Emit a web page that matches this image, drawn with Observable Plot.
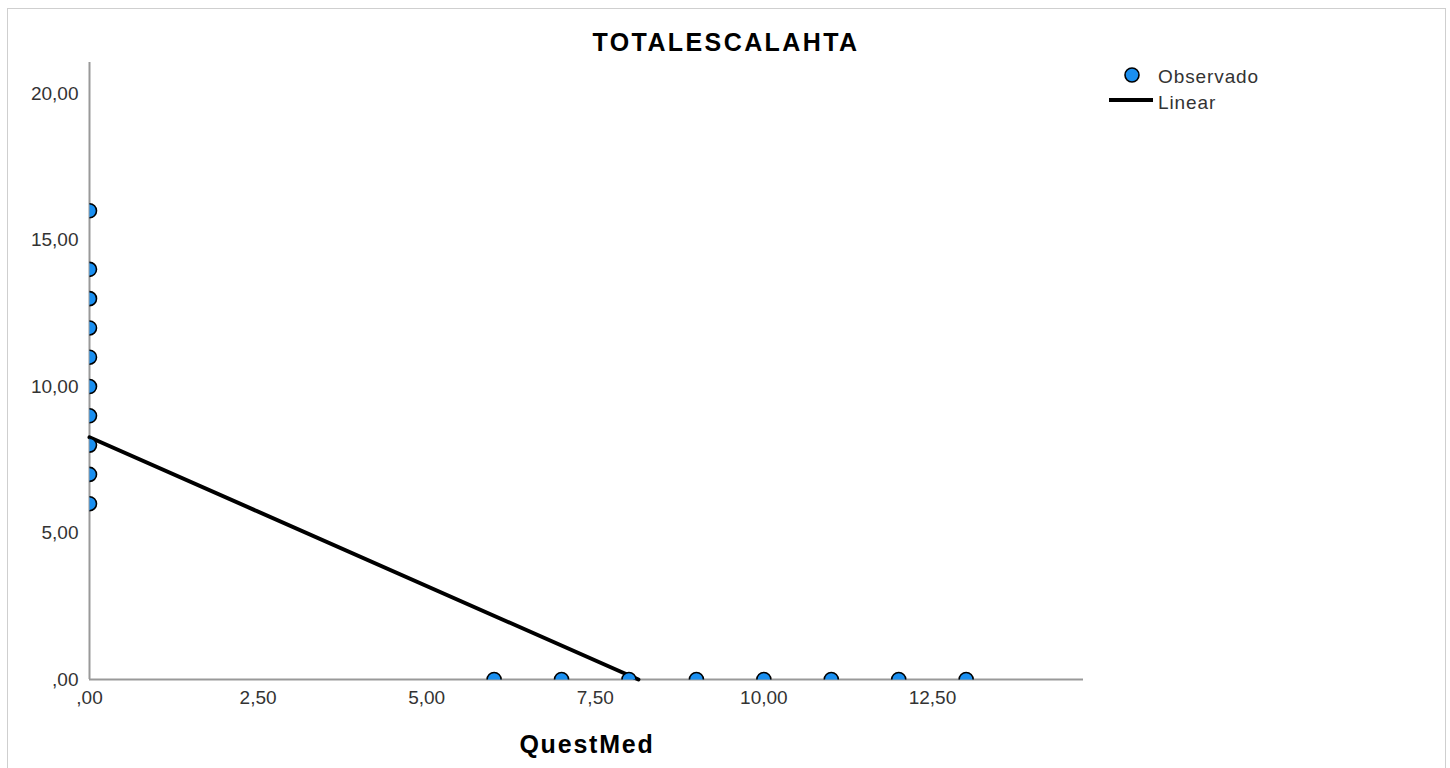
<!DOCTYPE html>
<html>
<head>
<meta charset="utf-8">
<script src="https://cdn.jsdelivr.net/npm/d3@7"></script>
<script src="https://cdn.jsdelivr.net/npm/@observablehq/plot@0.6"></script>
<style>
  html, body { margin: 0; padding: 0; background: #fff; width: 1450px; height: 768px; overflow: hidden; }
  #wrap { position: relative; width: 1450px; height: 768px; font-family: "Liberation Sans", Arial, sans-serif; }
  #border { position: absolute; left: 7px; top: 8px; width: 1437px; height: 800px; border: 1px solid #cfcfcf; border-bottom: none; }
  #chart { position: absolute; left: 0; top: 0; }
  #overlay { position: absolute; left: 0; top: 0; pointer-events: none; }
</style>
</head>
<body>
<div id="wrap">
  <div id="border"></div>
  <div id="chart"></div>
  <svg id="overlay" width="1450" height="768" font-family="Liberation Sans, Arial, sans-serif">
    <text x="726" y="51" text-anchor="middle" font-size="25" font-weight="bold" letter-spacing="2.4" fill="#000">TOTALESCALAHTA</text>
    <text x="587" y="753" text-anchor="middle" font-size="25" font-weight="bold" letter-spacing="1.8" fill="#000">QuestMed</text>
    <circle cx="1132" cy="75" r="7" fill="#1a8ff0" stroke="#000" stroke-width="1.6"></circle>
    <line x1="1109" y1="100" x2="1153" y2="100" stroke="#000" stroke-width="4"></line>
    <text x="1158" y="83" font-size="19" letter-spacing="0.9" fill="#333">Observado</text>
    <text x="1158" y="109" font-size="19" letter-spacing="0.9" fill="#333">Linear</text>
  </svg>
</div>
<script>
// Observed points (QuestMed, TOTALESCALAHTA)
const obsX = [0, 0, 0, 0, 0, 0, 0, 0, 0, 0, 6, 7, 8, 9, 10, 11, 12, 13];
const obsY = [16, 14, 13, 12, 11, 10, 9, 8, 7, 6, 0, 0, 0, 0, 0, 0, 0, 0];
// Linear fit line endpoints
const fitX = [0, 8.14];
const fitY = [8.27, 0];
// Axis ticks
const xTicks = [0, 2.5, 5, 7.5, 10, 12.5];
const yTicks = [0, 5, 10, 15, 20];
const xDomain = [0, 14.74];
const yDomain = [0, 21.06];

const obs = obsX.map((x, i) => ({x, y: obsY[i]}));
const fit = fitX.map((x, i) => ({x, y: fitY[i]}));
const fmt = d => d === 0 ? ",00" : d.toFixed(2).replace(".", ",");

const W = 1450, H = 768, ML = 89, MR = 367, MT = 62, MB = 89;

const chart = Plot.plot({
  width: W,
  height: H,
  marginLeft: ML,
  marginRight: MR,
  marginTop: MT,
  marginBottom: MB,
  style: {fontFamily: "Liberation Sans, Arial, sans-serif", fontSize: "19px", color: "#333", background: "transparent"},
  x: {domain: xDomain, ticks: xTicks, tickFormat: fmt, tickSize: 0, tickPadding: 11, label: null},
  y: {domain: yDomain, ticks: yTicks, tickFormat: fmt, tickSize: 0, tickPadding: 11, label: null},
  marks: [
    Plot.ruleY([0], {stroke: "#999", strokeWidth: 2}),
    Plot.ruleX([0], {stroke: "#999", strokeWidth: 2}),
    Plot.line(fit, {x: "x", y: "y", stroke: "#000", strokeWidth: 4}),
    Plot.dot(obs, {x: "x", y: "y", r: 7, fill: "#1a8ff0", stroke: "#000", strokeWidth: 1.6})
  ]
});

// Clip the dots to the plot frame, as in the reference (half circles on the axes)
const ns = "http://www.w3.org/2000/svg";
const defs = document.createElementNS(ns, "defs");
const cp = document.createElementNS(ns, "clipPath");
cp.setAttribute("id", "frameclip");
cp.setAttribute("clipPathUnits", "userSpaceOnUse");
const rect = document.createElementNS(ns, "rect");
rect.setAttribute("x", ML);
rect.setAttribute("y", MT);
rect.setAttribute("width", W - ML - MR);
rect.setAttribute("height", H - MT - MB);
cp.appendChild(rect);
defs.appendChild(cp);
chart.appendChild(defs);
chart.querySelectorAll("circle").forEach(c => c.setAttribute("clip-path", "url(#frameclip)"));

document.getElementById("chart").appendChild(chart);
</script>
</body>
</html>
